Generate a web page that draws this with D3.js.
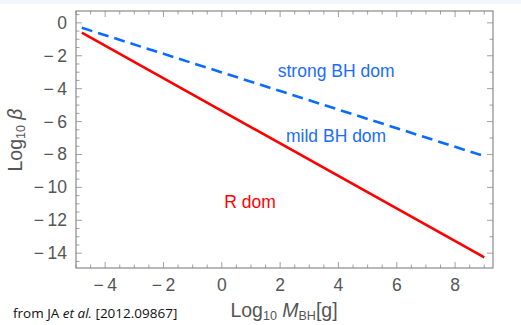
<!DOCTYPE html>
<html>
<head>
<meta charset="utf-8">
<script src="https://cdn.jsdelivr.net/npm/d3@7"></script>
<style>
  body { margin: 0; background: #fff; }
  svg { display: block; }
</style>
</head>
<body>
<svg id="chart" width="521" height="325"></svg>
<script>
// data
var xTicks = [-4, -2, 0, 2, 4, 6, 8];
var yTicks = [0, -2, -4, -6, -8, -10, -12, -14];
var redLine = [[-4.8, -0.6], [9, -14.25]];
var blueLine = [[-4.8, -0.3], [9, -8.1]];
var regionLabels = [
  {text: "strong BH dom", x: 3.92, y: -3.3, color: "#1a6cff"},
  {text: "mild BH dom", x: 3.92, y: -7.25, color: "#1a6cff"},
  {text: "R dom", x: 0.97, y: -11.25, color: "#ff0000"}
];

var margin_left = 76, margin_top = 11, plot_w = 417, plot_h = 257;
var tick_color = "#555", frame_color = "#8a8a8a";
var font = "Liberation Sans, Arial, sans-serif";

var svg = d3.select("#chart");

// faint band at top of the slide
svg.append("rect").attr("x", 0).attr("y", 0).attr("width", 521).attr("height", 4)
  .attr("fill", "#f4f6fb");

var x = d3.scaleLinear().domain([-5, 9.3]).range([margin_left, margin_left + plot_w]);
var y = d3.scaleLinear().domain([-14.9, 0.72]).range([margin_top + plot_h, margin_top]);

var g = svg.append("g");

//Frame ticks
var xMinor = d3.range(-5, 9.31, 0.5);
var yMinor = d3.range(-14.5, 0.51, 0.5);
function isMajor(v){ return Math.abs(v % 2) < 1e-6; }

xMinor.forEach(function(v){
  var len = isMajor(v) ? 6 : 3.5;
  g.append("line").attr("x1", x(v)).attr("x2", x(v))
    .attr("y1", y.range()[0]).attr("y2", y.range()[0] - len)
    .attr("stroke", frame_color).attr("stroke-width", 0.8);
  g.append("line").attr("x1", x(v)).attr("x2", x(v))
    .attr("y1", y.range()[1]).attr("y2", y.range()[1] + len)
    .attr("stroke", frame_color).attr("stroke-width", 0.8);
});
yMinor.forEach(function(v){
  var len = isMajor(v) ? 6 : 3.5;
  g.append("line").attr("y1", y(v)).attr("y2", y(v))
    .attr("x1", x.range()[0]).attr("x2", x.range()[0] + len)
    .attr("stroke", frame_color).attr("stroke-width", 0.8);
  if (Math.abs(v % 1) < 1e-6) {
    g.append("line").attr("y1", y(v)).attr("y2", y(v))
      .attr("x1", x.range()[1]).attr("x2", x.range()[1] - len)
      .attr("stroke", frame_color).attr("stroke-width", 0.8);
  }
});

g.append("rect")
  .attr("x", margin_left).attr("y", margin_top)
  .attr("width", plot_w).attr("height", plot_h)
  .attr("fill", "none").attr("stroke", frame_color).attr("stroke-width", 1.2);

function fmt(v){ return v < 0 ? "\u2212\u2009" + Math.abs(v) : String(v); }

// Tick labels
g.selectAll("text.xt").data(xTicks).enter().append("text")
  .attr("class", "xt")
  .attr("x", function(d){ return x(d); })
  .attr("y", 291)
  .attr("text-anchor", "middle")
  .attr("font-family", font).attr("font-size", 17.5)
  .attr("fill", tick_color)
  .text(fmt);

g.selectAll("text.yt").data(yTicks).enter().append("text")
  .attr("class", "yt")
  .attr("x", 67)
  .attr("y", function(d){ return y(d) + 6; })
  .attr("text-anchor", "end")
  .attr("font-family", font).attr("font-size", 17.5)
  .attr("fill", tick_color)
  .text(fmt);

// Lines
var line = d3.line().x(function(d){ return x(d[0]); }).y(function(d){ return y(d[1]); });

g.append("path").datum(redLine).attr("d", line)
  .attr("fill", "none").attr("stroke", "#ff0000").attr("stroke-width", 2.6);

g.append("path").datum(blueLine).attr("d", line)
  .attr("fill", "none").attr("stroke", "#0a6cff").attr("stroke-width", 2.6)
  .attr("stroke-dasharray", "11,6");

// Region labels
g.selectAll("text.reg").data(regionLabels).enter().append("text")
  .attr("class", "reg")
  .attr("x", function(d){ return x(d.x); })
  .attr("y", function(d){ return y(d.y); })
  .attr("text-anchor", "middle")
  .attr("font-family", font).attr("font-size", 17.5)
  .attr("fill", function(d){ return d.color; })
  .text(function(d){ return d.text; });

// Axis labels
var ylab = g.append("text")
  .attr("transform", "translate(22,140) rotate(-90)")
  .attr("text-anchor", "middle")
  .attr("font-family", font).attr("font-size", 19.5)
  .attr("fill", tick_color);
ylab.append("tspan").text("Log");
ylab.append("tspan").attr("font-size", 12.5).attr("dy", 3).text("10");
ylab.append("tspan").attr("dy", -3).attr("font-style", "italic").text(" \u03b2");

var xlab = g.append("text")
  .attr("x", 284).attr("y", 317)
  .attr("text-anchor", "middle")
  .attr("font-family", font).attr("font-size", 19.5)
  .attr("fill", tick_color);
xlab.append("tspan").text("Log");
xlab.append("tspan").attr("font-size", 12.5).attr("dy", 2.5).text("10");
xlab.append("tspan").attr("dy", -2.5).attr("font-style", "italic").text(" M");
xlab.append("tspan").attr("font-size", 12.5).attr("dy", 2.5).text("BH");
xlab.append("tspan").attr("dy", -2.5).text("[g]");

// footnote
var note = svg.append("text")
  .attr("x", 13).attr("y", 318)
  .attr("font-family", "Open Sans, Lato, sans-serif").attr("font-size", 13.5)
  .attr("fill", "#111");
note.append("tspan").text("from JA ");
note.append("tspan").attr("font-style", "italic").text("et al.");
note.append("tspan").text(" [2012.09867]");
</script>
</body>
</html>
